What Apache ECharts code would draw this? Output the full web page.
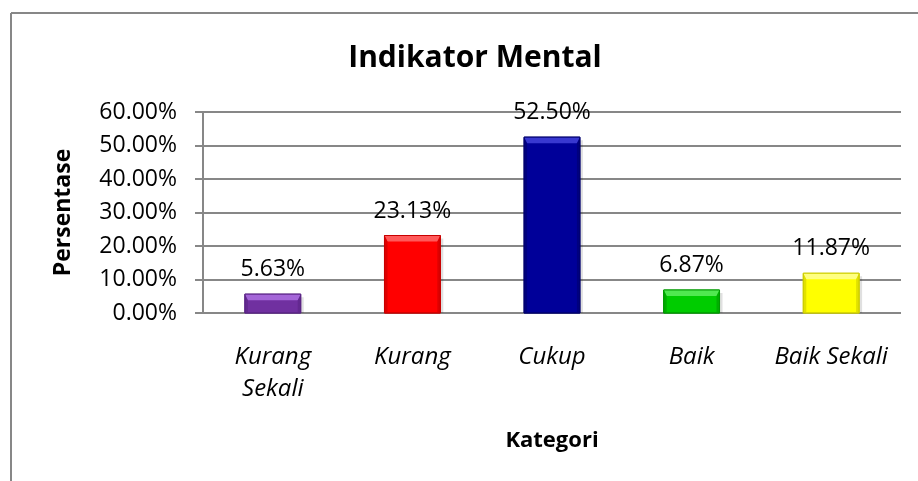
<!DOCTYPE html>
<html>
<head>
<meta charset="utf-8">
<script src="https://cdn.jsdelivr.net/npm/echarts@6/dist/echarts.min.js"></script>
<style>
html,body{margin:0;padding:0;background:#fff;}
#c{width:918px;height:481px;}
</style>
</head>
<body>
<div id="c"></div>
<script>
var categories = ['Kurang\nSekali', 'Kurang', 'Cukup', 'Baik', 'Baik Sekali'];
var values = [5.63, 23.13, 52.50, 6.87, 11.87];
var yTicks = [0, 10, 20, 30, 40, 50, 60];
var barColors = ['#7030A0', '#FF0000', '#000099', '#00CC00', '#FFFF00'];
var topColors = ['#A466D8', '#FF5A5A', '#3838D0', '#50E850', '#FFFF80'];
var edgeColors = ['#5A2485', '#C80000', '#00006E', '#009A00', '#CDCD00'];

var FONT = '"Open Sans", sans-serif';
var chart = echarts.init(document.getElementById('c'), null, {renderer: 'canvas'});

chart.setOption({
  backgroundColor: '#fff',
  animation: false,
  title: {
    text: 'Indikator Mental',
    left: 470, top: 38, textAlign: 'center',
    textStyle: {fontFamily: FONT, fontWeight: 'bold', fontSize: 30, color: '#000'}
  },
  graphic: [
    {type: 'line', shape: {x1: 11, y1: 13, x2: 918, y2: 13}, style: {stroke: '#878787', lineWidth: 2}, silent: true},
    {type: 'line', shape: {x1: 11, y1: 13, x2: 11, y2: 481}, style: {stroke: '#878787', lineWidth: 2}, silent: true}
  ],
  grid: {left: 203, right: 17, top: 112, bottom: 168},
  xAxis: {
    type: 'category',
    data: categories,
    name: 'Kategori',
    nameLocation: 'middle',
    nameGap: 117,
    nameTextStyle: {fontFamily: FONT, fontWeight: 'bold', fontSize: 22, color: '#000'},
    axisLine: {show: false},
    axisTick: {show: false},
    axisLabel: {fontFamily: FONT, fontStyle: 'italic', fontSize: 24, color: '#000', margin: 28, lineHeight: 32, interval: 0}
  },
  yAxis: {
    type: 'value',
    min: 0, max: 60, interval: 10,
    name: 'Persentase',
    nameLocation: 'middle',
    nameGap: 128,
    nameTextStyle: {fontFamily: FONT, fontWeight: 'bold', fontSize: 23, color: '#000'},
    axisLine: {show: true, lineStyle: {color: '#878787', width: 2}},
    axisTick: {show: true, length: 8, lineStyle: {color: '#878787', width: 2}},
    splitLine: {lineStyle: {color: '#878787', width: 2}},
    axisLabel: {fontFamily: FONT, fontSize: 23, color: '#000', margin: 26,
      formatter: function (v) { return v.toFixed(2) + '%'; }}
  },
  series: [{
    type: 'custom',
    data: values.map(function (v, i) { return [i, v]; }),
    renderItem: function (params, api) {
      var i = api.value(0);
      var v = api.value(1);
      var top = api.coord([i, v]);
      var base = api.coord([i, 0]);
      var w = api.size([1, 0])[0] * 0.4;
      var x = top[0] - w / 2;
      var y = top[1];
      var h = base[1] - top[1];
      var b = Math.min(6, h / 3);
      var s = 3;
      return {
        type: 'group',
        children: [
          {type: 'rect', shape: {x: x + 3, y: y + 3, width: w, height: h - 3},
            style: {fill: 'rgba(0,0,0,0.12)'}},
          {type: 'rect', shape: {x: x, y: y, width: w, height: h},
            style: {fill: barColors[i], stroke: edgeColors[i], lineWidth: 1}},
          {type: 'polygon', shape: {points: [[x, y], [x + w, y], [x + w - s, y + b], [x + s, y + b]]},
            style: {fill: topColors[i]}},
          {type: 'polygon', shape: {points: [[x, y], [x + s, y + b], [x + s, y + h - 1], [x, y + h]]},
            style: {fill: edgeColors[i], opacity: 0.6}},
          {type: 'polygon', shape: {points: [[x + w, y], [x + w - s, y + b], [x + w - s, y + h - 1], [x + w, y + h]]},
            style: {fill: edgeColors[i], opacity: 0.6}},
          {type: 'rect', shape: {x: x, y: y, width: w, height: h},
            style: {fill: 'none', stroke: edgeColors[i], lineWidth: 1}},
          {type: 'text', x: top[0], y: y - 13,
            style: {text: v.toFixed(2) + '%', fontFamily: FONT, fontSize: 23, fill: '#000',
              align: 'center', verticalAlign: 'bottom'}}
        ]
      };
    }
  }]
});
</script>
</body>
</html>
